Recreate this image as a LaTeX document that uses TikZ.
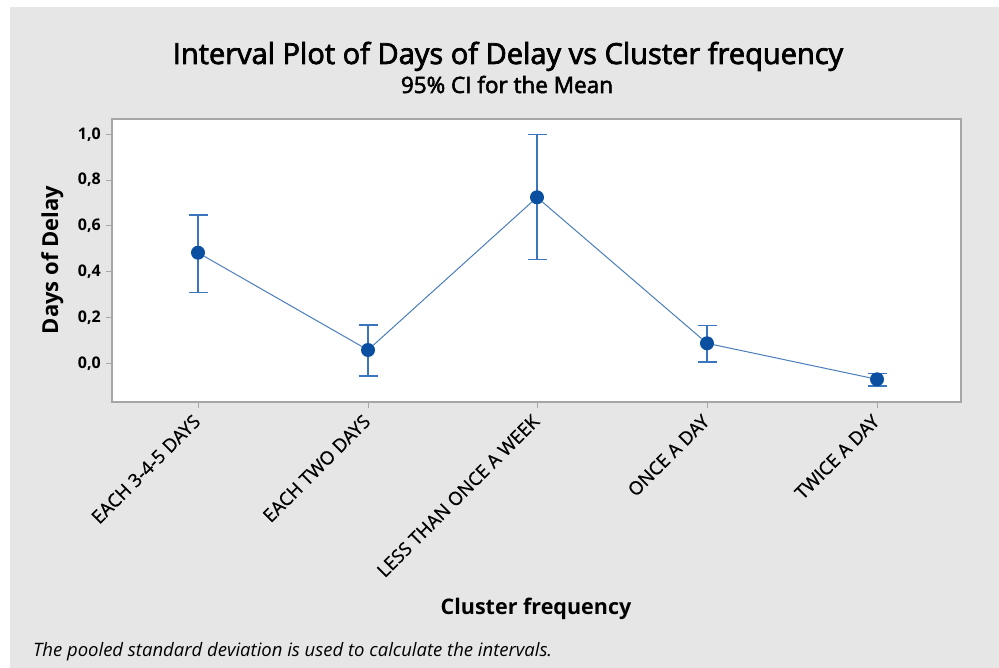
\documentclass[tikz,border=0pt]{standalone}
\usepackage{fontspec}
\setmainfont{Open Sans}
\newfontfamily\semifont[FakeBold=2.5]{Open Sans}
\newfontfamily\lightbold[FakeBold=0.8]{Open Sans}
\definecolor{panel}{HTML}{E6E6E6}
\definecolor{framegray}{HTML}{A6A6A6}
\definecolor{linkblue}{HTML}{4A7EBB}
\definecolor{barblue}{HTML}{3B74BF}
\definecolor{dotblue}{HTML}{0A4FA0}
\begin{document}
\begin{tikzpicture}[x=1pt,y=-1pt,
  framebox/.style={draw=framegray,line width=1.2pt},
  tickmark/.style={draw=framegray,line width=1pt},
  ylab/.style={anchor=east,inner sep=0pt,font=\fontsize{16}{18}\selectfont\bfseries},
  catlab/.style={anchor=east,rotate=45,inner sep=0pt,font=\fontsize{18.5}{20}\selectfont\lightbold},
  meanpt/.style={circle,fill=dotblue,inner sep=0pt,minimum size=14pt},
  link/.style={draw=linkblue,line width=1pt},
  errbar/.style={draw=barblue,line width=1.5pt}]
\useasboundingbox (0,0) rectangle (999,668);
\fill[white] (0,0) rectangle (999,668);
\fill[panel] (10,7) rectangle (999,668);
% plot area
\fill[white] (112,119) rectangle (961,402);
\draw[framebox] (112,119) rectangle (961,402);

% titles
\node[anchor=base,inner sep=0pt,font=\fontsize{29}{32}\selectfont\semifont] (title) at (508,64) {Interval Plot of Days of Delay vs Cluster frequency};
\node[anchor=base,inner sep=0pt,font=\fontsize{22.5}{26}\selectfont\semifont] (subtitle) at (507,93) {95\% CI for the Mean};

% y axis
\foreach \v/\yy in {{1,0}/134.3, {0,8}/180.1, {0,6}/225.9, {0,4}/271.7, {0,2}/317.5, {0,0}/363.3}{
  \draw[tickmark] (106,\yy) -- (112,\yy);
  \node[ylab] at (101,\yy) {\v};
}
\node[anchor=base,rotate=90,inner sep=0pt,font=\fontsize{22}{24}\selectfont\bfseries] (ytitle) at (58,260) {Days of Delay};

% categories
\foreach \xx/\lab in {198/EACH 3-4-5 DAYS, 368/EACH TWO DAYS, 537/LESS THAN ONCE A WEEK, 707/ONCE A DAY, 877/TWICE A DAY}{
  \draw[tickmark] (\xx,402) -- (\xx,408);
  \node[catlab] at (\xx-1,418) {\lab};
}
\node[anchor=base,inner sep=0pt,font=\fontsize{21.5}{24}\selectfont\bfseries] (xtitle) at (536,614) {Cluster frequency};
\node[anchor=base west,inner sep=0pt,font=\fontsize{18.5}{20}\selectfont\itshape] (note) at (33,656) {The pooled standard deviation is used to calculate the intervals.};

% confidence intervals
\foreach \xx/\hi/\lo in {198/215/292.7, 368/325/376, 537/134.7/259.3, 707/325.3/362, 877/373.5/386}{
  \draw[errbar] (\xx,\hi) -- (\xx,\lo);
  \draw[errbar] (\xx-9.5,\hi) -- (\xx+9.5,\hi);
  \draw[errbar] (\xx-9.5,\lo) -- (\xx+9.5,\lo);
}

% means
\node[meanpt] (m1) at (198,252.7) {};
\node[meanpt] (m2) at (368,350) {};
\node[meanpt] (m3) at (537,197.3) {};
\node[meanpt] (m4) at (707,343.3) {};
\node[meanpt] (m5) at (877,379.3) {};
\draw[link] (m1) -- (m2) -- (m3) -- (m4) -- (m5);
\end{tikzpicture}
\end{document}
